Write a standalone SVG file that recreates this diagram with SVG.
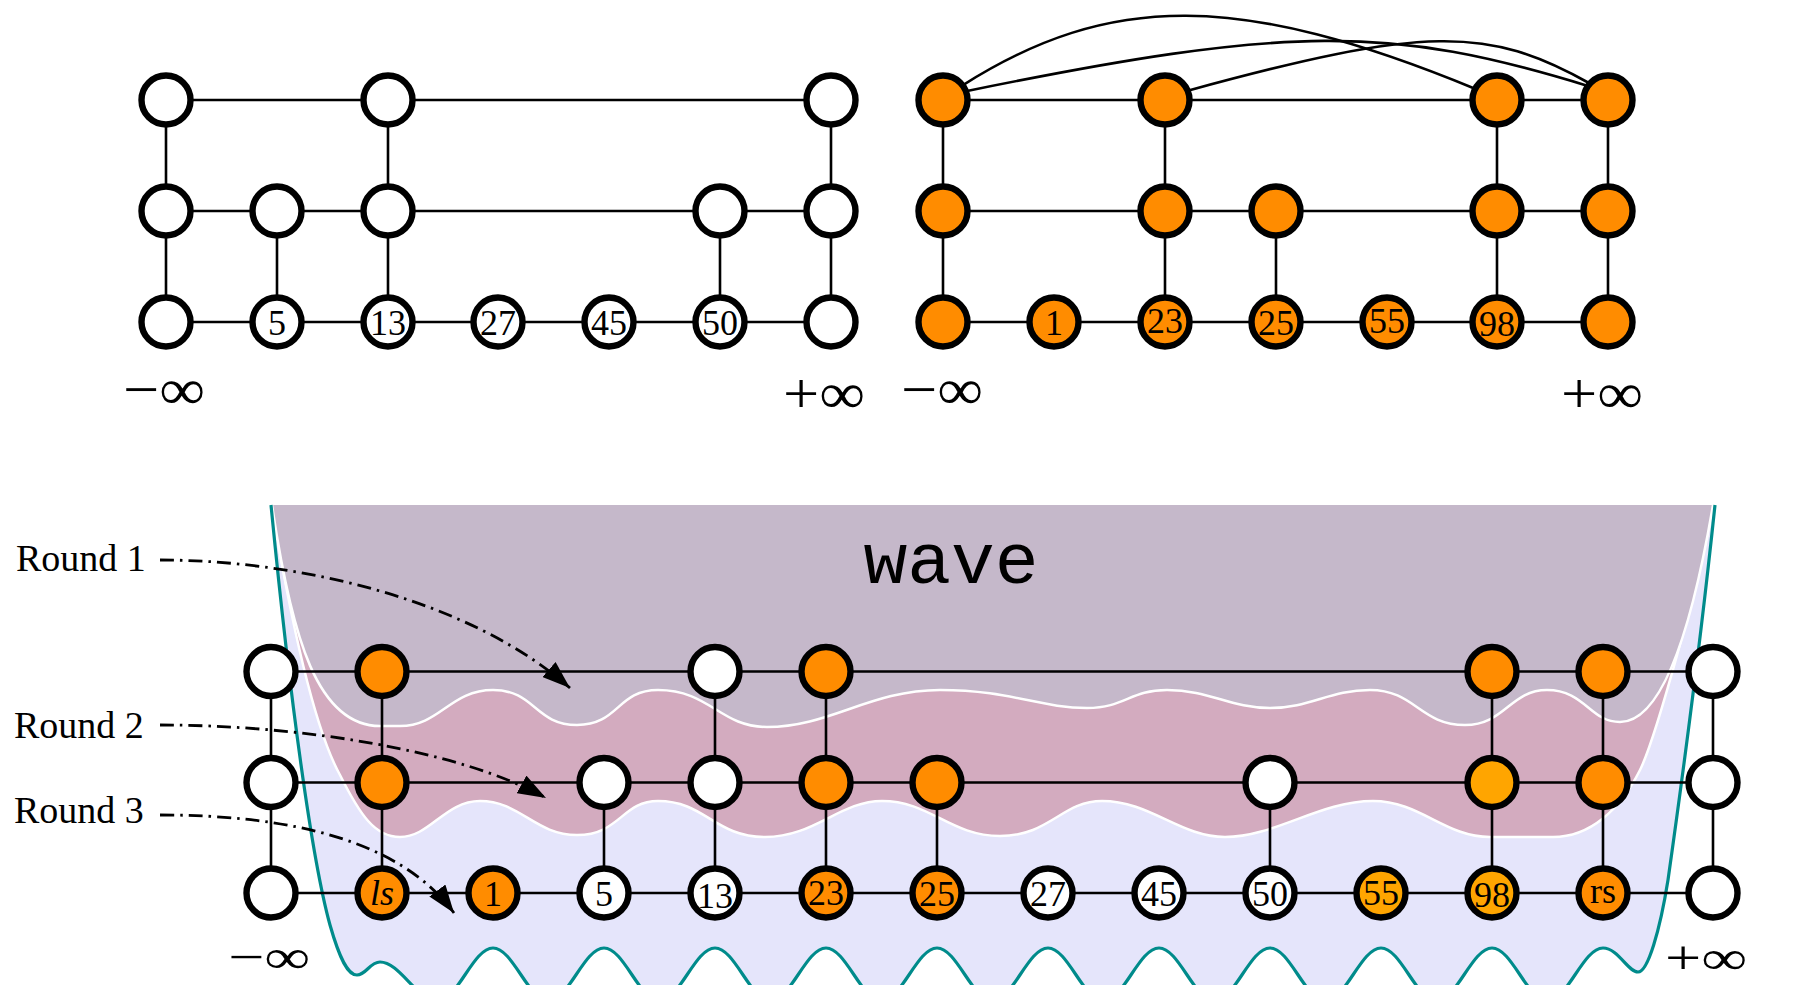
<svg xmlns="http://www.w3.org/2000/svg" width="1799" height="985" viewBox="0 0 1799 985">
<style>
.e{stroke:#000;stroke-width:2.6;fill:none}
.n{stroke:#000;stroke-width:6.4}
.w{fill:#fff}.o{fill:#FF8C00}.y{fill:#FFA500}
.t{font-family:"Liberation Serif",serif;font-size:36px;text-anchor:middle;fill:#000}
.inf{font-family:"Liberation Serif","DejaVu Serif",serif;font-size:58px;text-anchor:middle;fill:#000}
.infb{font-family:"Liberation Serif","DejaVu Serif",serif;font-size:48px;text-anchor:middle;fill:#000}
.rl{font-family:"Liberation Serif",serif;font-size:38px;fill:#000}
.wl{fill:none;stroke:#fff;stroke-width:2.5}
.ar{fill:none;stroke:#000;stroke-width:2.8;stroke-dasharray:14 6 2.5 6}
</style>
<defs>
<marker id="ah" markerUnits="userSpaceOnUse" markerWidth="29" markerHeight="20" refX="28" refY="10" orient="auto"><path d="M0,0 L28,10 L0,20 Z" fill="#000"/></marker>
</defs>
<g id="regions">
<path fill="#E5E5FB" d="M271,505 C290,700 312,860 330,925 C340,960 348,975 357,975 C366,975 370,962 380,962 C400,962 417,1001 437.5,1001 C457.5,1001 473,948 493,948 C513,948 528.5,1001 548.5,1001 C568.5,1001 584,948 604,948 C624,948 639.5,1001 659.5,1001 C679.5,1001 695,948 715,948 C735,948 750.5,1001 770.5,1001 C790.5,1001 806,948 826,948 C846,948 861.5,1001 881.5,1001 C901.5,1001 917,948 937,948 C957,948 972.5,1001 992.5,1001 C1012.5,1001 1028,948 1048,948 C1068,948 1083.5,1001 1103.5,1001 C1123.5,1001 1139,948 1159,948 C1179,948 1194.5,1001 1214.5,1001 C1234.5,1001 1250,948 1270,948 C1290,948 1305.5,1001 1325.5,1001 C1345.5,1001 1361,948 1381,948 C1401,948 1416.5,1001 1436.5,1001 C1456.5,1001 1472,948 1492,948 C1512,948 1527.5,1001 1547.5,1001 C1567.5,1001 1583,948 1603,948 C1618,948 1628,972 1638,972 C1648,972 1660,930 1668,880 C1685,760 1705,600 1715,505 Z"/>
<path fill="#D3ABBF" d="M272,505 C290,620 315,730 340,775 C360,815 375,837 400,837 C430,837 445,801 480,801 C520,801 535,835 577,835 C620,835 622,801 658,801 C705,801 715,837 765,837 C815,837 840,801 882,801 C930,801 950,836 1000,836 C1050,836 1062,801 1102,801 C1150,801 1180,837 1225,837 C1275,837 1320,801 1373,801 C1420,801 1445,837 1490,837 L1553,837 C1590,837 1620,810 1640,770 C1655,740 1700,580 1713,505 Z"/>
<path class="wl" d="M272,505 C290,620 315,730 340,775 C360,815 375,837 400,837 C430,837 445,801 480,801 C520,801 535,835 577,835 C620,835 622,801 658,801 C705,801 715,837 765,837 C815,837 840,801 882,801 C930,801 950,836 1000,836 C1050,836 1062,801 1102,801 C1150,801 1180,837 1225,837 C1275,837 1320,801 1373,801 C1420,801 1445,837 1490,837 L1553,837 C1590,837 1620,810 1640,770 C1655,740 1700,580 1713,505"/>
<path fill="#C5B8CA" d="M272,505 C292,640 318,726 380,726 L400,726 C440,726 450,690 493,690 C535,690 535,725 577,725 C619,725 617,690 658,690 C710,690 720,727 767,727 C830,727 870,690 940,690 C1010,690 1040,708 1087,708 C1125,708 1130,690 1167,690 C1210,690 1230,708 1270,708 C1310,708 1330,690 1370,690 C1415,690 1420,725 1465,725 C1505,725 1510,690 1547,690 C1585,690 1590,722 1620,722 C1660,722 1690,640 1713,505 Z"/>
<path class="wl" d="M272,505 C292,640 318,726 380,726 L400,726 C440,726 450,690 493,690 C535,690 535,725 577,725 C619,725 617,690 658,690 C710,690 720,727 767,727 C830,727 870,690 940,690 C1010,690 1040,708 1087,708 C1125,708 1130,690 1167,690 C1210,690 1230,708 1270,708 C1310,708 1330,690 1370,690 C1415,690 1420,725 1465,725 C1505,725 1510,690 1547,690 C1585,690 1590,722 1620,722 C1660,722 1690,640 1713,505"/>
<path fill="none" stroke="#008B8B" stroke-width="3.2" d="M271,505 C290,700 312,860 330,925 C340,960 348,975 357,975 C366,975 370,962 380,962 C400,962 417,1001 437.5,1001 C457.5,1001 473,948 493,948 C513,948 528.5,1001 548.5,1001 C568.5,1001 584,948 604,948 C624,948 639.5,1001 659.5,1001 C679.5,1001 695,948 715,948 C735,948 750.5,1001 770.5,1001 C790.5,1001 806,948 826,948 C846,948 861.5,1001 881.5,1001 C901.5,1001 917,948 937,948 C957,948 972.5,1001 992.5,1001 C1012.5,1001 1028,948 1048,948 C1068,948 1083.5,1001 1103.5,1001 C1123.5,1001 1139,948 1159,948 C1179,948 1194.5,1001 1214.5,1001 C1234.5,1001 1250,948 1270,948 C1290,948 1305.5,1001 1325.5,1001 C1345.5,1001 1361,948 1381,948 C1401,948 1416.5,1001 1436.5,1001 C1456.5,1001 1472,948 1492,948 C1512,948 1527.5,1001 1547.5,1001 C1567.5,1001 1583,948 1603,948 C1618,948 1628,972 1638,972 C1648,972 1660,930 1668,880 C1685,760 1705,600 1715,505"/>
<text x="951" y="583" font-family="Liberation Mono, monospace" font-size="73" text-anchor="middle" fill="#000">wave</text>
</g>
<g id="connectors">
<path class="e" d="M166,100H388M388,100H831M166,211H277M277,211H388M388,211H720M720,211H831M166,322H277M277,322H388M388,322H498M498,322H609M609,322H720M720,322H831M166,100V211M166,211V322M277,211V322M388,100V211M388,211V322M720,211V322M831,100V211M831,211V322"/>
<path class="e" d="M943,100H1165M1165,100H1497M1497,100H1608M943,211H1165M1165,211H1276M1276,211H1497M1497,211H1608M943,322H1054M1054,322H1165M1165,322H1276M1276,322H1387M1387,322H1497M1497,322H1608M943,100V211M943,211V322M1165,100V211M1165,211V322M1276,211V322M1497,100V211M1497,211V322M1608,100V211M1608,211V322"/>
<path class="e" d="M962.6,85.3 C1110,-8 1240,-8 1475,88.7"/>
<path class="e" d="M965.9,91.2 C1290,25 1390,25 1587.9,85.9"/>
<path class="e" d="M1187.7,90.7 C1424,26 1488,26 1589.9,83.5"/>
<path class="e" d="M271,671.5H382M382,671.5H715M715,671.5H826M826,671.5H1492M1492,671.5H1603M1603,671.5H1713M271,782.5H382M382,782.5H604M604,782.5H715M715,782.5H826M826,782.5H937M937,782.5H1270M1270,782.5H1492M1492,782.5H1603M1603,782.5H1713M271,893H382M382,893H493M493,893H604M604,893H715M715,893H826M826,893H937M937,893H1048M1048,893H1159M1159,893H1270M1270,893H1381M1381,893H1492M1492,893H1603M1603,893H1713M271,671.5V782.5M271,782.5V893M382,671.5V782.5M382,782.5V893M604,782.5V893M715,671.5V782.5M715,782.5V893M826,671.5V782.5M826,782.5V893M937,782.5V893M1270,782.5V893M1492,671.5V782.5M1492,782.5V893M1603,671.5V782.5M1603,782.5V893M1713,671.5V782.5M1713,782.5V893"/>
</g>
<g id="nodes-top-left">
<g id="tl-0-0"><circle class="n w" cx="166" cy="100" r="24.5"/></g>
<g id="tl-2-0"><circle class="n w" cx="388" cy="100" r="24.5"/></g>
<g id="tl-6-0"><circle class="n w" cx="831" cy="100" r="24.5"/></g>
<g id="tl-0-1"><circle class="n w" cx="166" cy="211" r="24.5"/></g>
<g id="tl-1-1"><circle class="n w" cx="277" cy="211" r="24.5"/></g>
<g id="tl-2-1"><circle class="n w" cx="388" cy="211" r="24.5"/></g>
<g id="tl-5-1"><circle class="n w" cx="720" cy="211" r="24.5"/></g>
<g id="tl-6-1"><circle class="n w" cx="831" cy="211" r="24.5"/></g>
<g id="tl-ninf"><circle class="n w" cx="166" cy="322" r="24.5"/></g>
<g id="tl-5"><circle class="n w" cx="277" cy="322" r="24.5"/><text class="t" x="277" y="334.5">5</text></g>
<g id="tl-13"><circle class="n w" cx="388" cy="322" r="24.5"/><text class="t" x="388" y="334.5">13</text></g>
<g id="tl-27"><circle class="n w" cx="498" cy="322" r="24.5"/><text class="t" x="498" y="334.5">27</text></g>
<g id="tl-45"><circle class="n w" cx="609" cy="322" r="24.5"/><text class="t" x="609" y="334.5">45</text></g>
<g id="tl-50"><circle class="n w" cx="720" cy="322" r="24.5"/><text class="t" x="720" y="334.5">50</text></g>
<g id="tl-pinf"><circle class="n w" cx="831" cy="322" r="24.5"/></g>
<text class="inf" x="164" y="409" textLength="82" lengthAdjust="spacingAndGlyphs">−∞</text>
<text class="inf" x="824" y="413" textLength="82" lengthAdjust="spacingAndGlyphs">+∞</text>
</g>
<g id="nodes-top-right">
<g id="tr-0-0"><circle class="n o" cx="943" cy="100" r="24.5"/></g>
<g id="tr-2-0"><circle class="n o" cx="1165" cy="100" r="24.5"/></g>
<g id="tr-5-0"><circle class="n o" cx="1497" cy="100" r="24.5"/></g>
<g id="tr-6-0"><circle class="n o" cx="1608" cy="100" r="24.5"/></g>
<g id="tr-0-1"><circle class="n o" cx="943" cy="211" r="24.5"/></g>
<g id="tr-2-1"><circle class="n o" cx="1165" cy="211" r="24.5"/></g>
<g id="tr-3-1"><circle class="n o" cx="1276" cy="211" r="24.5"/></g>
<g id="tr-5-1"><circle class="n o" cx="1497" cy="211" r="24.5"/></g>
<g id="tr-6-1"><circle class="n o" cx="1608" cy="211" r="24.5"/></g>
<g id="tr-ninf"><circle class="n o" cx="943" cy="322" r="24.5"/></g>
<g id="tr-1"><circle class="n o" cx="1054" cy="322" r="24.5"/><text class="t" x="1054" y="334.5">1</text></g>
<g id="tr-23"><circle class="n o" cx="1165" cy="322" r="24.5"/><text class="t" x="1165" y="333">23</text></g>
<g id="tr-25"><circle class="n o" cx="1276" cy="322" r="24.5"/><text class="t" x="1276" y="334.5">25</text></g>
<g id="tr-55"><circle class="n o" cx="1387" cy="322" r="24.5"/><text class="t" x="1387" y="333">55</text></g>
<g id="tr-98"><circle class="n o" cx="1497" cy="322" r="24.5"/><text class="t" x="1497" y="336">98</text></g>
<g id="tr-pinf"><circle class="n o" cx="1608" cy="322" r="24.5"/></g>
<text class="inf" x="942" y="409" textLength="82" lengthAdjust="spacingAndGlyphs">−∞</text>
<text class="inf" x="1602" y="413" textLength="82" lengthAdjust="spacingAndGlyphs">+∞</text>
</g>
<g id="nodes-bottom">
<g id="b-0-0"><circle class="n w" cx="271" cy="671.5" r="24.5"/></g>
<g id="b-0-1"><circle class="n w" cx="271" cy="782.5" r="24.5"/></g>
<g id="b-ninf"><circle class="n w" cx="271" cy="893" r="24.5"/></g>
<g id="b-1-0"><circle class="n o" cx="382" cy="671.5" r="24.5"/></g>
<g id="b-1-1"><circle class="n o" cx="382" cy="782.5" r="24.5"/></g>
<g id="b-ls"><circle class="n o" cx="382" cy="893" r="24.5"/><text class="t" x="382" y="905" font-style="italic">ls</text></g>
<g id="b-1"><circle class="n o" cx="493" cy="893" r="24.5"/><text class="t" x="493" y="905.5">1</text></g>
<g id="b-3-1"><circle class="n w" cx="604" cy="782.5" r="24.5"/></g>
<g id="b-5"><circle class="n w" cx="604" cy="893" r="24.5"/><text class="t" x="604" y="905.5">5</text></g>
<g id="b-4-0"><circle class="n w" cx="715" cy="671.5" r="24.5"/></g>
<g id="b-4-1"><circle class="n w" cx="715" cy="782.5" r="24.5"/></g>
<g id="b-13"><circle class="n w" cx="715" cy="893" r="24.5"/><text class="t" x="715" y="908">13</text></g>
<g id="b-5-0"><circle class="n o" cx="826" cy="671.5" r="24.5"/></g>
<g id="b-5-1"><circle class="n o" cx="826" cy="782.5" r="24.5"/></g>
<g id="b-23"><circle class="n o" cx="826" cy="893" r="24.5"/><text class="t" x="826" y="905">23</text></g>
<g id="b-6-1"><circle class="n o" cx="937" cy="782.5" r="24.5"/></g>
<g id="b-25"><circle class="n o" cx="937" cy="893" r="24.5"/><text class="t" x="937" y="905.5">25</text></g>
<g id="b-27"><circle class="n w" cx="1048" cy="893" r="24.5"/><text class="t" x="1048" y="905.5">27</text></g>
<g id="b-45"><circle class="n w" cx="1159" cy="893" r="24.5"/><text class="t" x="1159" y="905.5">45</text></g>
<g id="b-9-1"><circle class="n w" cx="1270" cy="782.5" r="24.5"/></g>
<g id="b-50"><circle class="n w" cx="1270" cy="893" r="24.5"/><text class="t" x="1270" y="905.5">50</text></g>
<g id="b-55"><circle class="n y" cx="1381" cy="893" r="24.5"/><text class="t" x="1381" y="905">55</text></g>
<g id="b-11-0"><circle class="n o" cx="1492" cy="671.5" r="24.5"/></g>
<g id="b-11-1"><circle class="n y" cx="1492" cy="782.5" r="24.5"/></g>
<g id="b-98"><circle class="n y" cx="1492" cy="893" r="24.5"/><text class="t" x="1492" y="907">98</text></g>
<g id="b-12-0"><circle class="n o" cx="1603" cy="671.5" r="24.5"/></g>
<g id="b-12-1"><circle class="n o" cx="1603" cy="782.5" r="24.5"/></g>
<g id="b-rs"><circle class="n o" cx="1603" cy="893" r="24.5"/><text class="t" x="1603" y="903">rs</text></g>
<g id="b-13-0"><circle class="n w" cx="1713" cy="671.5" r="24.5"/></g>
<g id="b-13-1"><circle class="n w" cx="1713" cy="782.5" r="24.5"/></g>
<g id="b-pinf"><circle class="n w" cx="1713" cy="893" r="24.5"/></g>
<text class="infb" x="269" y="973" textLength="82" lengthAdjust="spacingAndGlyphs">−∞</text>
<text class="infb" x="1706" y="974" textLength="82" lengthAdjust="spacingAndGlyphs">+∞</text>
</g>
<g id="rounds">
<text class="rl" x="16" y="571">Round 1</text>
<text class="rl" x="14" y="738">Round 2</text>
<text class="rl" x="14" y="823">Round 3</text>
<path class="ar" marker-end="url(#ah)" d="M160,560 C300,560 470,600 570,688"/>
<path class="ar" marker-end="url(#ah)" d="M160,725 C300,725 460,750 546,798"/>
<path class="ar" marker-end="url(#ah)" d="M160,815 C290,815 400,840 454,913"/>
</g>
</svg>
